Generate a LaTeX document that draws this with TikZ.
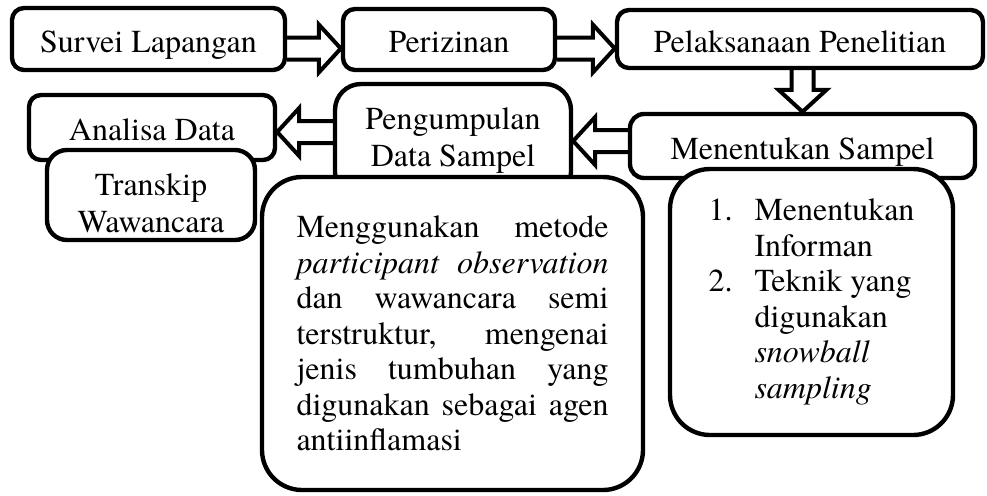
\documentclass[tikz,border=0pt]{standalone}
\usepackage{fontspec}
\setmainfont{TeX Gyre Termes}
\usetikzlibrary{calc,backgrounds}

\newcommand{\boxfont}{\fontsize{16}{18.5}\selectfont}
\newcommand{\longfont}{\fontsize{16}{17.75}\selectfont}
\newcommand{\jline}[1]{\makebox[156pt][l]{#1}}

\begin{document}
\begin{tikzpicture}[
    x=0.5pt, y=-0.5pt,
    box/.style={rectangle, rounded corners=6pt, draw=black, line width=2.2pt, fill=white,
                inner sep=0pt, font=\boxfont, text height=13pt, text depth=0pt},
    tbox/.style={rectangle, rounded corners=10pt, draw=black, line width=2.2pt, fill=white,
                 inner sep=0pt, font=\boxfont, align=center},
    bigbox/.style={rectangle, rounded corners=20pt, draw=black, line width=2.2pt, fill=white,
                   inner sep=0pt, font=\longfont, align=left},
    blk/.style={draw=black, line width=2pt, fill=white, line join=miter,
      to path={let \p1=(\tikztostart), \p2=(\tikztotarget),
        \n1={veclen(\x2-\x1,\y2-\y1)}, \n2={(\x2-\x1)/\n1}, \n3={(\y2-\y1)/\n1} in
        ({\x1-5.5*(\n3)},{\y1+5.5*(\n2)})
        -- ({\x2-11*(\n2)-5.5*(\n3)},{\y2-11*(\n3)+5.5*(\n2)})
        -- ({\x2-11*(\n2)-12*(\n3)},{\y2-11*(\n3)+12*(\n2)})
        -- (\x2,\y2)
        -- ({\x2-11*(\n2)+12*(\n3)},{\y2-11*(\n3)-12*(\n2)})
        -- ({\x2-11*(\n2)+5.5*(\n3)},{\y2-11*(\n3)-5.5*(\n2)})
        -- ({\x1+5.5*(\n3)},{\y1-5.5*(\n2)})}}
]
\useasboundingbox (0,0) rectangle (987,495);
% top row
\node[box, minimum width=136.5pt, minimum height=31pt] (s1) at (148.5,39) {Survei Lapangan};
\node[box, minimum width=106pt, minimum height=30.5pt] (s2) at (449,39.5) {Perizinan};
\node[box, minimum width=183pt, minimum height=29pt] (s3) at (800,39) {Pelaksanaan Penelitian};
% right column
\node[box, rounded corners=7pt, minimum width=172.5pt, minimum height=32pt] (s4) at (802.5,146) {Menentukan Sampel};
\node[bigbox, minimum width=141.5pt, minimum height=133pt] (s9) at (811.5,302)
  {\makebox[23pt][l]{1.}Menentukan\\\hspace*{23pt}Informan\\
   \makebox[23pt][l]{2.}Teknik yang\\\hspace*{23pt}digunakan\\
   \hspace*{23pt}\textit{snowball}\\\hspace*{23pt}\textit{sampling}};
% left column
\node[box, minimum width=123pt, minimum height=32.5pt] (s6) at (152,127.5) {Analisa Data};
\node[tbox, minimum width=104pt, minimum height=45pt, text height=37pt, text depth=0pt] (s7) at (151,195) {Transkip\\Wawancara};
% middle column
\node[tbox, rounded corners=13pt, minimum width=118pt, minimum height=57pt] (s5) at (453,141) {Pengumpulan\\Data Sampel};
\node[bigbox, minimum width=190.5pt, minimum height=156.5pt, text width=156pt] (s8) at (452.5,333.5)
  {\jline{Menggunakan\hfill metode}\\
   \jline{\textit{participant}\hfill\textit{observation}}\\
   \jline{dan\hfill wawancara\hfill semi}\\
   \jline{terstruktur,\hfill mengenai}\\
   \jline{jenis\hfill tumbuhan\hfill yang}\\
   \jline{digunakan\hfill sebagai\hfill agen}\\
   antiinflamasi};
% block arrows
\begin{scope}[on background layer]
\draw[blk] ($(s1.east)+(0,9.5)$) to ($(s2.west)+(0,9)$);
\draw[blk] ($(s2.east)+(0,9)$) to ($(s3.west)+(0,9.5)$);
\draw[blk] (s4.north |- s3.south) to (s4.north);
\draw[blk] (s4.west |- s5.east) to (s5.east);
\draw[blk] ($(s6.east -| s5.west)+(0,4.5)$) to ($(s6.east)+(0,4.5)$);
\end{scope}
\end{tikzpicture}
\end{document}
